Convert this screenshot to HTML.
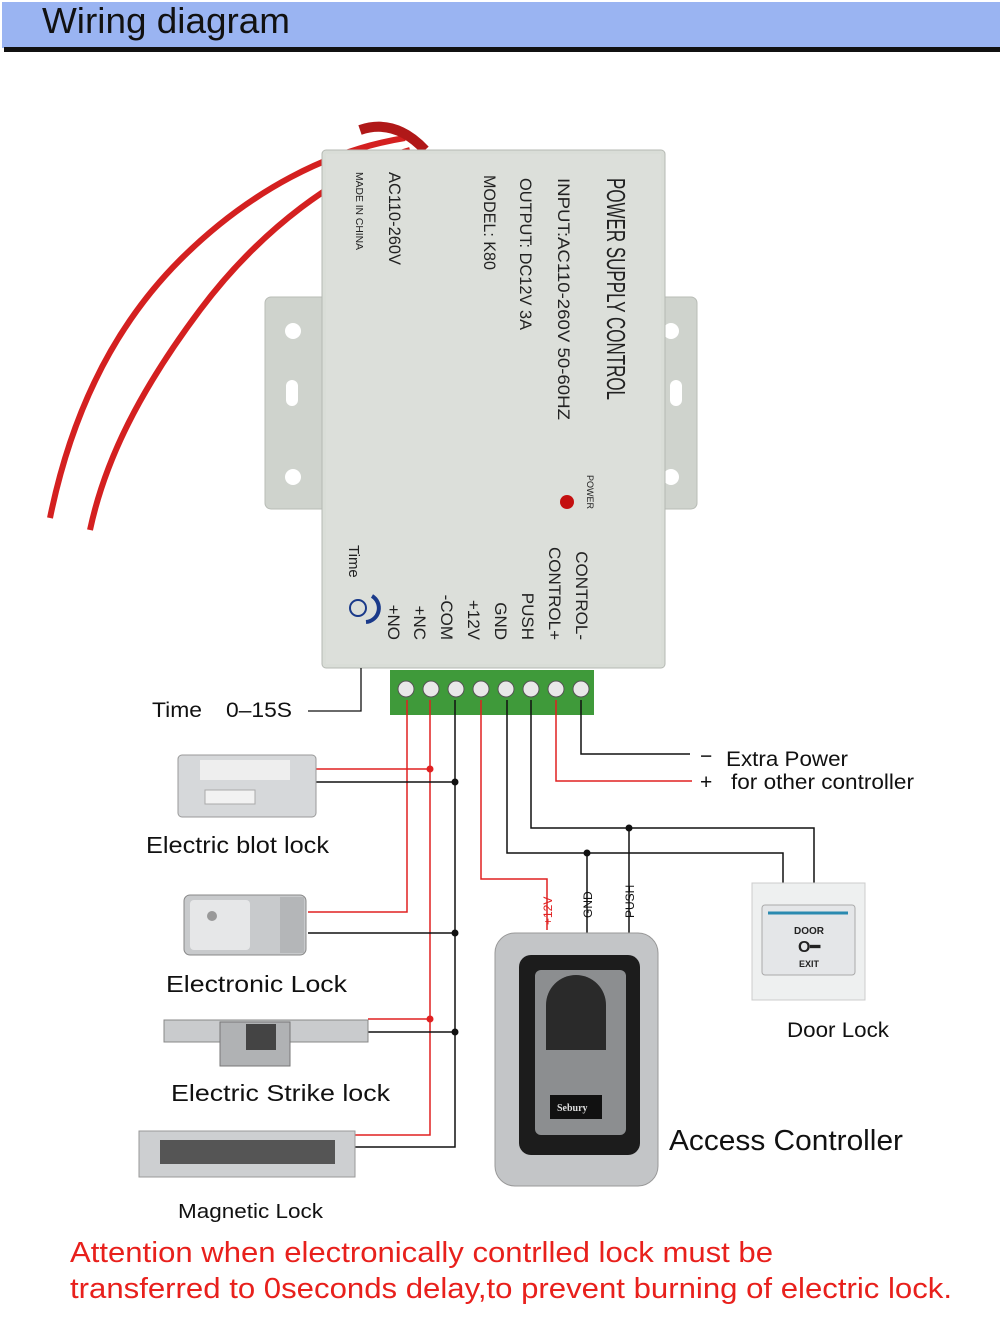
<!DOCTYPE html>
<html><head><meta charset="utf-8"><style>
html,body{margin:0;padding:0;background:#fff;}
svg{display:block;font-family:"Liberation Sans",sans-serif;}
</style></head><body>
<svg width="1000" height="1328" viewBox="0 0 1000 1328" xmlns="http://www.w3.org/2000/svg">
<rect x="0" y="0" width="1000" height="1328" fill="#fff"/>
<rect x="2" y="2" width="998" height="46" fill="#9ab4f2"/>
<rect x="4" y="47" width="996" height="5" fill="#111"/>
<text x="42" y="33" font-size="36" fill="#111" textLength="248" lengthAdjust="spacingAndGlyphs">Wiring diagram</text>

<!-- red mains wires -->
<path d="M405,138 C330,150 250,190 180,260 C110,330 70,420 50,518" stroke="#d42020" stroke-width="6" fill="none"/>
<path d="M410,150 C340,170 260,230 200,310 C140,390 105,460 90,530" stroke="#d42020" stroke-width="6" fill="none"/>
<path d="M360,130 Q395,118 425,150" stroke="#b01818" stroke-width="10" fill="none"/>

<!-- flanges -->
<rect x="265" y="297" width="432" height="212" rx="6" fill="#cfd3cd" stroke="#b8bcb6"/>
<circle cx="293" cy="331" r="8" fill="#fff"/>
<circle cx="671" cy="331" r="8" fill="#fff"/>
<circle cx="293" cy="477" r="8" fill="#fff"/>
<circle cx="671" cy="477" r="8" fill="#fff"/>
<rect x="286" y="380" width="12" height="26" rx="6" fill="#fff"/>
<rect x="670" y="380" width="12" height="26" rx="6" fill="#fff"/>
<!-- main box -->
<rect x="322" y="150" width="343" height="518" rx="4" fill="#d9ddd7" stroke="#b5b9b3"/>
<rect x="326" y="154" width="335" height="510" fill="#dcdfda"/>
<circle cx="567" cy="502" r="7" fill="#c41010"/>

<g fill="#222">
<text transform="translate(607,178) rotate(90)" font-size="26" textLength="222" lengthAdjust="spacingAndGlyphs">POWER SUPPLY CONTROL</text>
<text transform="translate(558,178) rotate(90)" font-size="17" textLength="242" lengthAdjust="spacingAndGlyphs">INPUT:AC110-260V 50-60HZ</text>
<text transform="translate(520,178) rotate(90)" font-size="17" textLength="152" lengthAdjust="spacingAndGlyphs">OUTPUT: DC12V 3A</text>
<text transform="translate(484,175) rotate(90)" font-size="17" textLength="95" lengthAdjust="spacingAndGlyphs">MODEL: K80</text>
<text transform="translate(389,172) rotate(90)" font-size="17" textLength="93" lengthAdjust="spacingAndGlyphs">AC110-260V</text>
<text transform="translate(356,172) rotate(90)" font-size="10" textLength="78" lengthAdjust="spacingAndGlyphs">MADE IN CHINA</text>
<text transform="translate(587,475) rotate(90)" font-size="9">POWER</text>
<text transform="translate(349,545) rotate(90)" font-size="15">Time</text>
<g font-size="17" text-anchor="end">
<text transform="translate(576,640) rotate(90)">CONTROL-</text>
<text transform="translate(549,640) rotate(90)">CONTROL+</text>
<text transform="translate(522,640) rotate(90)">PUSH</text>
<text transform="translate(495,640) rotate(90)">GND</text>
<text transform="translate(468,640) rotate(90)">+12V</text>
<text transform="translate(441,640) rotate(90)">-COM</text>
<text transform="translate(414,640) rotate(90)">+NC</text>
<text transform="translate(388,640) rotate(90)">+NO</text>
</g>
</g>
<circle cx="358" cy="608" r="8" fill="none" stroke="#1a3a8a" stroke-width="2"/>
<path d="M372,596 A14,14 0 0 1 366,622" stroke="#1a3a8a" stroke-width="4" fill="none"/>

<!-- terminal block -->
<rect x="390" y="670" width="204" height="45" fill="#3f9a3a"/>
<g fill="#e8e8e8" stroke="#555" stroke-width="1">
<circle cx="406" cy="689" r="8"/><circle cx="431" cy="689" r="8"/><circle cx="456" cy="689" r="8"/><circle cx="481" cy="689" r="8"/>
<circle cx="506" cy="689" r="8"/><circle cx="531" cy="689" r="8"/><circle cx="556" cy="689" r="8"/><circle cx="581" cy="689" r="8"/>
</g>

<!-- time label -->
<text x="152" y="717" font-size="21" fill="#111" textLength="50" lengthAdjust="spacingAndGlyphs">Time</text>
<text x="226" y="717" font-size="21" fill="#111" textLength="66" lengthAdjust="spacingAndGlyphs">0–15S</text>
<polyline points="308,711 361,711 361,668" stroke="#111" stroke-width="1.3" fill="none"/>

<!-- wires -->
<g fill="none" stroke-width="1.5">
<polyline points="407,700 407,912 308,912" stroke="#e02020"/>
<polyline points="430,700 430,1135 355,1135" stroke="#e02020"/>
<line x1="430" y1="769" x2="316" y2="769" stroke="#e02020"/>
<line x1="430" y1="1019" x2="368" y2="1019" stroke="#e02020"/>
<polyline points="455,700 455,1147 355,1147" stroke="#111"/>
<line x1="455" y1="782" x2="316" y2="782" stroke="#111"/>
<line x1="455" y1="933" x2="308" y2="933" stroke="#111"/>
<line x1="455" y1="1032" x2="368" y2="1032" stroke="#111"/>
<polyline points="481,700 481,879 547,879 547,930" stroke="#e02020"/>
<polyline points="507,700 507,853 783,853 783,883" stroke="#111"/>
<polyline points="531,700 531,828 814,828 814,883" stroke="#111"/>
<line x1="587" y1="853" x2="587" y2="935" stroke="#111"/>
<line x1="629" y1="828" x2="629" y2="935" stroke="#111"/>
<polyline points="556,700 556,781 692,781" stroke="#e02020"/>
<polyline points="581,700 581,754 690,754" stroke="#111"/>
</g>
<g>
<circle cx="430" cy="769" r="3.5" fill="#e02020"/><circle cx="430" cy="1019" r="3.5" fill="#e02020"/>
<circle cx="455" cy="782" r="3.5" fill="#111"/><circle cx="455" cy="933" r="3.5" fill="#111"/><circle cx="455" cy="1032" r="3.5" fill="#111"/>
<circle cx="587" cy="853" r="3.5" fill="#111"/><circle cx="629" cy="828" r="3.5" fill="#111"/>
</g>
<text transform="translate(552,925) rotate(-90)" font-size="12" fill="#e02020">+12V</text>
<text transform="translate(592,918) rotate(-90)" font-size="12" fill="#111">GND</text>
<text transform="translate(634,918) rotate(-90)" font-size="12" fill="#111">PUSH</text>

<text x="700" y="763" font-size="21" fill="#111">−</text>
<text x="726" y="766" font-size="21" fill="#111" textLength="122" lengthAdjust="spacingAndGlyphs">Extra Power</text>
<text x="700" y="789" font-size="21" fill="#111">+</text>
<text x="731" y="789" font-size="21" fill="#111" textLength="183" lengthAdjust="spacingAndGlyphs">for other controller</text>

<!-- electric bolt lock -->
<rect x="178" y="755" width="138" height="62" rx="4" fill="#d6d8da" stroke="#999"/>
<rect x="200" y="760" width="90" height="20" fill="#eee"/>
<rect x="205" y="790" width="50" height="14" fill="#f2f2f2" stroke="#aaa"/>
<text x="146" y="853" font-size="23" fill="#111" textLength="183" lengthAdjust="spacingAndGlyphs">Electric blot lock</text>

<!-- electronic lock -->
<rect x="184" y="895" width="122" height="60" rx="6" fill="#c8cacc" stroke="#888"/>
<rect x="190" y="900" width="60" height="50" rx="4" fill="#e6e7e8"/>
<rect x="280" y="897" width="24" height="56" fill="#b4b6b8"/>
<circle cx="212" cy="916" r="5" fill="#999"/>
<text x="166" y="992" font-size="23" fill="#111" textLength="181" lengthAdjust="spacingAndGlyphs">Electronic Lock</text>

<!-- electric strike -->
<rect x="164" y="1020" width="204" height="22" fill="#c9cbcd" stroke="#888"/>
<rect x="220" y="1022" width="70" height="44" fill="#b0b2b4" stroke="#777"/>
<rect x="246" y="1024" width="30" height="26" fill="#444"/>
<text x="171" y="1101" font-size="23" fill="#111" textLength="219" lengthAdjust="spacingAndGlyphs">Electric Strike lock</text>

<!-- magnetic lock -->
<rect x="139" y="1131" width="216" height="46" fill="#cdcfd1" stroke="#999"/>
<rect x="160" y="1140" width="175" height="24" fill="#555"/>
<text x="178" y="1218" font-size="20" fill="#111" textLength="145" lengthAdjust="spacingAndGlyphs">Magnetic Lock</text>

<!-- access controller -->
<rect x="495" y="933" width="163" height="253" rx="20" fill="#c3c5c7" stroke="#999"/>
<rect x="519" y="955" width="121" height="200" rx="12" fill="#1c1c1c"/>
<rect x="535" y="970" width="91" height="165" rx="6" fill="#8c8e90"/>
<path d="M546,1050 L546,1005 A30,30 0 0 1 606,1005 L606,1050 Z" fill="#2a2a2a"/>
<rect x="550" y="1095" width="52" height="24" fill="#111"/>
<text x="557" y="1111" font-size="10" fill="#ddd" font-family="Liberation Serif,serif" font-weight="bold">Sebury</text>
<text x="669" y="1150" font-size="29" fill="#111" textLength="234" lengthAdjust="spacingAndGlyphs">Access Controller</text>

<!-- door exit -->
<rect x="752" y="883" width="113" height="117" fill="#eef0f0" stroke="#ccc"/>
<rect x="762" y="905" width="93" height="70" rx="3" fill="#e4e6e8" stroke="#aaa"/>
<line x1="768" y1="913" x2="848" y2="913" stroke="#2a8ab0" stroke-width="3"/>
<text x="809" y="934" font-size="10" fill="#222" text-anchor="middle" font-weight="bold">DOOR</text>
<text x="809" y="952" font-size="16" fill="#222" text-anchor="middle" font-weight="bold">O━</text>
<text x="809" y="967" font-size="9" fill="#222" text-anchor="middle" font-weight="bold">EXIT</text>
<text x="787" y="1037" font-size="21" fill="#111" textLength="102" lengthAdjust="spacingAndGlyphs">Door Lock</text>

<text x="70" y="1262" font-size="29" fill="#e8201c" textLength="703" lengthAdjust="spacingAndGlyphs">Attention when electronically contrlled lock must be</text>
<text x="70" y="1298" font-size="29" fill="#e8201c" textLength="882" lengthAdjust="spacingAndGlyphs">transferred to 0seconds delay,to prevent burning of electric lock.</text>
</svg>
</body></html>
